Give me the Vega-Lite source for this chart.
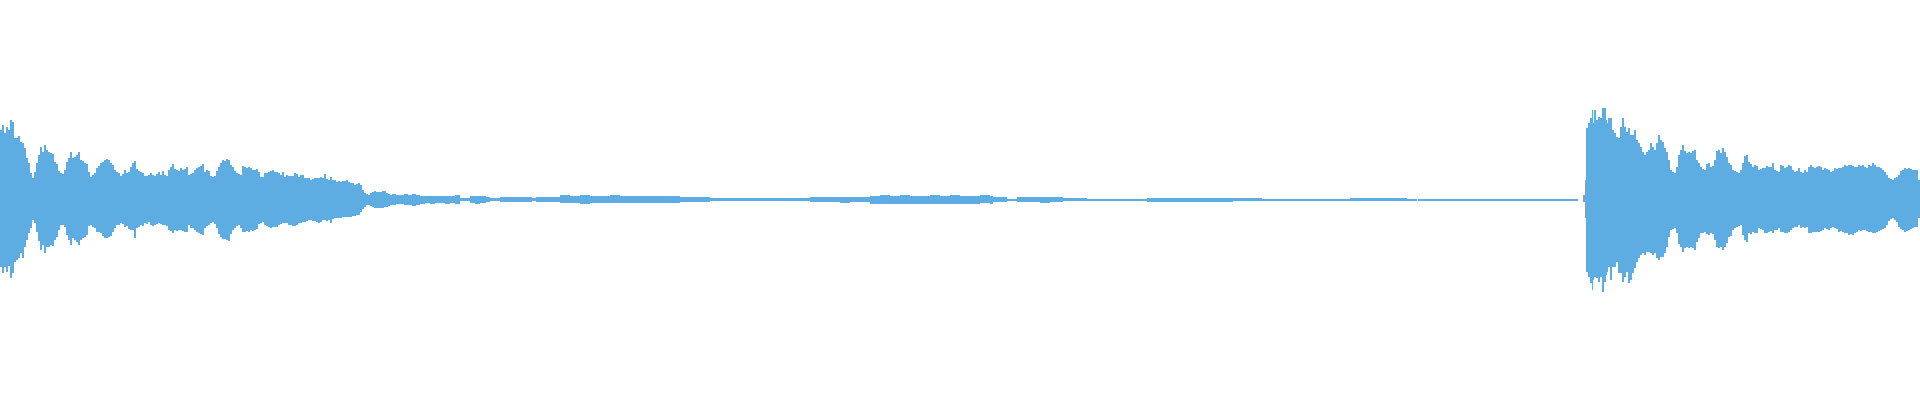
{
"$schema": "https://vega.github.io/schema/vega-lite/v6.json",
"width": 1920, "height": 400, "padding": 0,
"autosize": {"type": "fit", "contains": "padding"},
"background": "white",
"config": {"view": {"stroke": null}},
"data": {"values": [
{"t":0,"hi":70,"lo":-67},{"t":2,"hi":75,"lo":-73},{"t":4,"hi":67,"lo":-67},{"t":6,"hi":73,"lo":-72},{"t":8,"hi":70,"lo":-66},{"t":10,"hi":80,"lo":-78},{"t":12,"hi":78,"lo":-73},{"t":14,"hi":62,"lo":-62},{"t":16,"hi":62,"lo":-60},{"t":18,"hi":64,"lo":-58},
{"t":20,"hi":58,"lo":-53},{"t":22,"hi":57,"lo":-58},{"t":24,"hi":52,"lo":-47},{"t":26,"hi":42,"lo":-40},{"t":28,"hi":37,"lo":-33},{"t":30,"hi":27,"lo":-28},{"t":32,"hi":22,"lo":-20},{"t":34,"hi":28,"lo":-23},{"t":36,"hi":37,"lo":-32},{"t":38,"hi":45,"lo":-41},
{"t":40,"hi":53,"lo":-50},{"t":42,"hi":48,"lo":-45},{"t":44,"hi":55,"lo":-53},{"t":46,"hi":50,"lo":-47},{"t":48,"hi":48,"lo":-47},{"t":50,"hi":47,"lo":-45},{"t":52,"hi":46,"lo":-46},{"t":54,"hi":38,"lo":-40},{"t":56,"hi":36,"lo":-37},{"t":58,"hi":29,"lo":-30},
{"t":60,"hi":27,"lo":-25},{"t":62,"hi":26,"lo":-25},{"t":64,"hi":30,"lo":-27},{"t":66,"hi":38,"lo":-35},{"t":68,"hi":42,"lo":-40},{"t":70,"hi":48,"lo":-45},{"t":72,"hi":42,"lo":-38},{"t":74,"hi":43,"lo":-40},{"t":76,"hi":45,"lo":-42},{"t":78,"hi":48,"lo":-45},
{"t":80,"hi":40,"lo":-40},{"t":82,"hi":39,"lo":-38},{"t":84,"hi":37,"lo":-37},{"t":86,"hi":36,"lo":-35},{"t":88,"hi":28,"lo":-26},{"t":90,"hi":23,"lo":-25},{"t":92,"hi":25,"lo":-27},{"t":94,"hi":27,"lo":-28},{"t":96,"hi":32,"lo":-32},{"t":98,"hi":34,"lo":-32},
{"t":100,"hi":37,"lo":-33},{"t":102,"hi":38,"lo":-36},{"t":104,"hi":40,"lo":-38},{"t":106,"hi":41,"lo":-38},{"t":108,"hi":40,"lo":-37},{"t":110,"hi":37,"lo":-36},{"t":112,"hi":35,"lo":-32},{"t":114,"hi":30,"lo":-28},{"t":116,"hi":28,"lo":-25},{"t":118,"hi":27,"lo":-25},
{"t":120,"hi":24,"lo":-23},{"t":122,"hi":26,"lo":-24},{"t":124,"hi":30,"lo":-27},{"t":126,"hi":27,"lo":-26},{"t":128,"hi":28,"lo":-29},{"t":130,"hi":33,"lo":-30},{"t":132,"hi":37,"lo":-30},{"t":134,"hi":39,"lo":-38},{"t":136,"hi":31,"lo":-28},{"t":138,"hi":29,"lo":-27},
{"t":140,"hi":28,"lo":-25},{"t":142,"hi":27,"lo":-26},{"t":144,"hi":24,"lo":-23},{"t":146,"hi":24,"lo":-24},{"t":148,"hi":25,"lo":-22},{"t":150,"hi":27,"lo":-25},{"t":152,"hi":25,"lo":-26},{"t":154,"hi":24,"lo":-25},{"t":156,"hi":26,"lo":-24},{"t":158,"hi":28,"lo":-23},
{"t":160,"hi":25,"lo":-24},{"t":162,"hi":29,"lo":-25},{"t":164,"hi":25,"lo":-25},{"t":166,"hi":24,"lo":-26},{"t":168,"hi":30,"lo":-30},{"t":170,"hi":33,"lo":-31},{"t":172,"hi":36,"lo":-33},{"t":174,"hi":31,"lo":-30},{"t":176,"hi":30,"lo":-31},{"t":178,"hi":29,"lo":-30},
{"t":180,"hi":32,"lo":-30},{"t":182,"hi":30,"lo":-31},{"t":184,"hi":31,"lo":-32},{"t":186,"hi":33,"lo":-32},{"t":188,"hi":25,"lo":-25},{"t":190,"hi":26,"lo":-28},{"t":192,"hi":27,"lo":-28},{"t":194,"hi":30,"lo":-30},{"t":196,"hi":32,"lo":-32},{"t":198,"hi":33,"lo":-33},
{"t":200,"hi":34,"lo":-34},{"t":202,"hi":36,"lo":-35},{"t":204,"hi":28,"lo":-28},{"t":206,"hi":30,"lo":-26},{"t":208,"hi":29,"lo":-25},{"t":210,"hi":24,"lo":-23},{"t":212,"hi":23,"lo":-22},{"t":214,"hi":24,"lo":-24},{"t":216,"hi":29,"lo":-28},{"t":218,"hi":33,"lo":-34},
{"t":220,"hi":37,"lo":-37},{"t":222,"hi":40,"lo":-39},{"t":224,"hi":39,"lo":-39},{"t":226,"hi":41,"lo":-40},{"t":228,"hi":40,"lo":-41},{"t":230,"hi":35,"lo":-34},{"t":232,"hi":33,"lo":-30},{"t":234,"hi":29,"lo":-28},{"t":236,"hi":27,"lo":-26},{"t":238,"hi":26,"lo":-25},
{"t":240,"hi":25,"lo":-28},{"t":242,"hi":34,"lo":-32},{"t":244,"hi":33,"lo":-32},{"t":246,"hi":32,"lo":-31},{"t":248,"hi":33,"lo":-32},{"t":250,"hi":32,"lo":-30},{"t":252,"hi":30,"lo":-31},{"t":254,"hi":30,"lo":-30},{"t":256,"hi":31,"lo":-29},{"t":258,"hi":28,"lo":-24},
{"t":260,"hi":23,"lo":-23},{"t":262,"hi":23,"lo":-22},{"t":264,"hi":27,"lo":-25},{"t":266,"hi":27,"lo":-26},{"t":268,"hi":28,"lo":-27},{"t":270,"hi":29,"lo":-28},{"t":272,"hi":30,"lo":-27},{"t":274,"hi":28,"lo":-27},{"t":276,"hi":28,"lo":-27},{"t":278,"hi":27,"lo":-25},
{"t":280,"hi":25,"lo":-24},{"t":282,"hi":28,"lo":-23},{"t":284,"hi":23,"lo":-23},{"t":286,"hi":25,"lo":-23},{"t":288,"hi":24,"lo":-25},{"t":290,"hi":24,"lo":-25},{"t":292,"hi":24,"lo":-26},{"t":294,"hi":27,"lo":-26},{"t":296,"hi":26,"lo":-25},{"t":298,"hi":23,"lo":-23},
{"t":300,"hi":25,"lo":-23},{"t":302,"hi":25,"lo":-22},{"t":304,"hi":22,"lo":-22},{"t":306,"hi":22,"lo":-21},{"t":308,"hi":22,"lo":-20},{"t":310,"hi":20,"lo":-20},{"t":312,"hi":21,"lo":-21},{"t":314,"hi":22,"lo":-21},{"t":316,"hi":22,"lo":-22},{"t":318,"hi":22,"lo":-23},
{"t":320,"hi":23,"lo":-22},{"t":322,"hi":22,"lo":-20},{"t":324,"hi":26,"lo":-20},{"t":326,"hi":21,"lo":-21},{"t":328,"hi":20,"lo":-20},{"t":330,"hi":23,"lo":-23},{"t":332,"hi":20,"lo":-19},{"t":334,"hi":20,"lo":-18},{"t":336,"hi":18,"lo":-18},{"t":338,"hi":19,"lo":-18},
{"t":340,"hi":18,"lo":-18},{"t":342,"hi":19,"lo":-17},{"t":344,"hi":19,"lo":-17},{"t":346,"hi":20,"lo":-17},{"t":348,"hi":18,"lo":-17},{"t":350,"hi":17,"lo":-17},{"t":352,"hi":17,"lo":-16},{"t":354,"hi":15,"lo":-16},{"t":356,"hi":16,"lo":-15},{"t":358,"hi":17,"lo":-15},
{"t":360,"hi":15,"lo":-12},{"t":362,"hi":10,"lo":-9},{"t":364,"hi":7,"lo":-7},{"t":366,"hi":6,"lo":-5},{"t":368,"hi":5,"lo":-5},{"t":370,"hi":7,"lo":-6},{"t":372,"hi":8,"lo":-7},{"t":374,"hi":9,"lo":-8},{"t":376,"hi":8,"lo":-8},{"t":378,"hi":8,"lo":-8},
{"t":380,"hi":8,"lo":-8},{"t":382,"hi":9,"lo":-8},{"t":384,"hi":9,"lo":-7},{"t":386,"hi":7,"lo":-7},{"t":388,"hi":6,"lo":-6},{"t":390,"hi":5,"lo":-5},
{"t":392,"hi":6,"lo":-5},{"t":396,"hi":5,"lo":-4},{"t":400,"hi":5,"lo":-4},{"t":404,"hi":6,"lo":-5},{"t":408,"hi":5,"lo":-5},{"t":412,"hi":6,"lo":-6},{"t":416,"hi":5,"lo":-5},{"t":420,"hi":4,"lo":-4},{"t":425,"hi":4,"lo":-3},{"t":430,"hi":4,"lo":-4},
{"t":435,"hi":4,"lo":-3},{"t":440,"hi":4,"lo":-3},{"t":445,"hi":4,"lo":-4},{"t":450,"hi":4,"lo":-3},{"t":455,"hi":5,"lo":-4},{"t":460,"hi":2,"lo":-1},{"t":464,"hi":2,"lo":-1},{"t":470,"hi":4,"lo":-3},{"t":475,"hi":4,"lo":-4},{"t":480,"hi":4,"lo":-3},
{"t":486,"hi":3,"lo":-2},{"t":490,"hi":2,"lo":-1},{"t":495,"hi":2,"lo":-1},{"t":500,"hi":3,"lo":-2},{"t":510,"hi":3,"lo":-2},{"t":520,"hi":3,"lo":-2},{"t":528,"hi":3,"lo":-2},{"t":532,"hi":2,"lo":-1},{"t":536,"hi":3,"lo":-2},{"t":545,"hi":3,"lo":-2},
{"t":555,"hi":3,"lo":-2},{"t":560,"hi":5,"lo":-3},{"t":570,"hi":4,"lo":-3},{"t":580,"hi":5,"lo":-4},{"t":590,"hi":4,"lo":-3},{"t":600,"hi":4,"lo":-3},{"t":610,"hi":5,"lo":-3},{"t":620,"hi":4,"lo":-3},{"t":630,"hi":4,"lo":-3},{"t":640,"hi":4,"lo":-3},
{"t":650,"hi":4,"lo":-3},{"t":660,"hi":4,"lo":-3},{"t":670,"hi":4,"lo":-3},{"t":680,"hi":3,"lo":-2},{"t":690,"hi":3,"lo":-2},{"t":700,"hi":3,"lo":-2},{"t":710,"hi":2,"lo":-1},{"t":720,"hi":2,"lo":-1},{"t":730,"hi":2,"lo":-1},{"t":740,"hi":2,"lo":-1},
{"t":750,"hi":2,"lo":-1},{"t":760,"hi":2,"lo":-1},{"t":770,"hi":2,"lo":-1},{"t":780,"hi":2,"lo":-1},{"t":790,"hi":2,"lo":-1},{"t":800,"hi":2,"lo":-1},{"t":810,"hi":3,"lo":-2},{"t":820,"hi":3,"lo":-2},{"t":830,"hi":3,"lo":-2},{"t":840,"hi":3,"lo":-3},
{"t":850,"hi":3,"lo":-2},{"t":860,"hi":3,"lo":-2},{"t":870,"hi":4,"lo":-4},{"t":880,"hi":5,"lo":-4},{"t":890,"hi":4,"lo":-4},{"t":900,"hi":5,"lo":-4},{"t":910,"hi":4,"lo":-4},{"t":920,"hi":4,"lo":-4},{"t":930,"hi":5,"lo":-4},{"t":940,"hi":4,"lo":-4},
{"t":950,"hi":5,"lo":-4},{"t":960,"hi":4,"lo":-4},{"t":970,"hi":4,"lo":-4},{"t":980,"hi":5,"lo":-3},{"t":990,"hi":4,"lo":-4},{"t":993,"hi":3,"lo":-2},{"t":1000,"hi":3,"lo":-2},{"t":1007,"hi":1,"lo":-1},{"t":1017,"hi":3,"lo":-2},{"t":1030,"hi":3,"lo":-2},
{"t":1040,"hi":3,"lo":-3},{"t":1050,"hi":3,"lo":-2},{"t":1063,"hi":2,"lo":-1},{"t":1075,"hi":2,"lo":-1},{"t":1087,"hi":1,"lo":-1},{"t":1100,"hi":1,"lo":-1},{"t":1120,"hi":1,"lo":-1},{"t":1140,"hi":1,"lo":-1},{"t":1147,"hi":2,"lo":-2},{"t":1160,"hi":2,"lo":-2},
{"t":1180,"hi":2,"lo":-2},{"t":1200,"hi":2,"lo":-2},{"t":1220,"hi":2,"lo":-2},{"t":1233,"hi":2,"lo":-1},{"t":1250,"hi":2,"lo":-1},{"t":1262,"hi":1,"lo":-1},{"t":1280,"hi":1,"lo":-1},{"t":1300,"hi":1,"lo":-1},{"t":1320,"hi":1,"lo":-1},{"t":1350,"hi":2,"lo":-1},
{"t":1370,"hi":2,"lo":-1},{"t":1390,"hi":2,"lo":-1},{"t":1407,"hi":1,"lo":-1},{"t":1417,"hi":0,"lo":0},{"t":1418,"hi":1,"lo":-1},{"t":1440,"hi":1,"lo":-1},{"t":1460,"hi":1,"lo":-1},{"t":1480,"hi":1,"lo":-1},{"t":1500,"hi":1,"lo":-1},{"t":1520,"hi":1,"lo":-1},
{"t":1540,"hi":1,"lo":-1},{"t":1560,"hi":1,"lo":-1},{"t":1576,"hi":1,"lo":-1},{"t":1578,"hi":0,"lo":0},
{"t":1583,"hi":5,"lo":-2},{"t":1585,"hi":20,"lo":-18},{"t":1586,"hi":72,"lo":-72},{"t":1588,"hi":77,"lo":-77},{"t":1590,"hi":82,"lo":-83},{"t":1592,"hi":90,"lo":-90},{"t":1593,"hi":77,"lo":-80},{"t":1594,"hi":90,"lo":-77},{"t":1596,"hi":80,"lo":-78},{"t":1598,"hi":83,"lo":-82},
{"t":1600,"hi":82,"lo":-77},{"t":1602,"hi":92,"lo":-92},{"t":1604,"hi":92,"lo":-82},{"t":1606,"hi":80,"lo":-75},{"t":1607,"hi":77,"lo":-72},{"t":1608,"hi":82,"lo":-67},{"t":1610,"hi":82,"lo":-80},{"t":1612,"hi":70,"lo":-67},{"t":1614,"hi":67,"lo":-67},{"t":1616,"hi":63,"lo":-62},
{"t":1618,"hi":62,"lo":-73},{"t":1620,"hi":73,"lo":-73},{"t":1622,"hi":82,"lo":-82},{"t":1624,"hi":73,"lo":-77},{"t":1626,"hi":68,"lo":-72},{"t":1628,"hi":72,"lo":-83},{"t":1630,"hi":65,"lo":-80},{"t":1632,"hi":65,"lo":-73},{"t":1634,"hi":70,"lo":-68},{"t":1636,"hi":60,"lo":-62},
{"t":1638,"hi":57,"lo":-58},{"t":1640,"hi":53,"lo":-55},{"t":1642,"hi":48,"lo":-53},{"t":1644,"hi":45,"lo":-55},{"t":1646,"hi":48,"lo":-52},{"t":1648,"hi":50,"lo":-52},{"t":1650,"hi":57,"lo":-53},{"t":1652,"hi":53,"lo":-55},{"t":1654,"hi":50,"lo":-53},{"t":1656,"hi":57,"lo":-58},
{"t":1658,"hi":65,"lo":-60},{"t":1660,"hi":60,"lo":-57},{"t":1662,"hi":58,"lo":-57},{"t":1664,"hi":52,"lo":-53},{"t":1666,"hi":48,"lo":-47},{"t":1668,"hi":40,"lo":-37},{"t":1670,"hi":30,"lo":-30},{"t":1672,"hi":28,"lo":-29},{"t":1674,"hi":27,"lo":-28},{"t":1676,"hi":33,"lo":-33},
{"t":1678,"hi":45,"lo":-44},{"t":1680,"hi":50,"lo":-47},{"t":1682,"hi":55,"lo":-52},{"t":1684,"hi":49,"lo":-48},{"t":1686,"hi":47,"lo":-47},{"t":1688,"hi":48,"lo":-48},{"t":1690,"hi":47,"lo":-47},{"t":1692,"hi":49,"lo":-48},{"t":1694,"hi":50,"lo":-50},{"t":1696,"hi":40,"lo":-42},
{"t":1698,"hi":37,"lo":-38},{"t":1700,"hi":33,"lo":-33},{"t":1702,"hi":31,"lo":-33},{"t":1704,"hi":30,"lo":-32},{"t":1706,"hi":36,"lo":-34},{"t":1708,"hi":37,"lo":-35},{"t":1710,"hi":33,"lo":-33},{"t":1712,"hi":34,"lo":-34},{"t":1714,"hi":40,"lo":-40},{"t":1716,"hi":49,"lo":-47},
{"t":1718,"hi":50,"lo":-48},{"t":1720,"hi":47,"lo":-47},{"t":1722,"hi":52,"lo":-50},{"t":1724,"hi":48,"lo":-47},{"t":1726,"hi":43,"lo":-43},{"t":1728,"hi":37,"lo":-37},{"t":1730,"hi":35,"lo":-36},{"t":1732,"hi":30,"lo":-30},{"t":1734,"hi":29,"lo":-28},{"t":1736,"hi":28,"lo":-27},
{"t":1738,"hi":27,"lo":-26},{"t":1740,"hi":30,"lo":-25},{"t":1742,"hi":37,"lo":-35},{"t":1744,"hi":44,"lo":-40},{"t":1746,"hi":45,"lo":-42},{"t":1748,"hi":38,"lo":-33},{"t":1750,"hi":36,"lo":-34},{"t":1752,"hi":33,"lo":-32},{"t":1754,"hi":35,"lo":-33},{"t":1756,"hi":34,"lo":-33},
{"t":1758,"hi":30,"lo":-28},{"t":1760,"hi":31,"lo":-29},{"t":1762,"hi":32,"lo":-30},{"t":1764,"hi":32,"lo":-33},{"t":1766,"hi":34,"lo":-33},{"t":1768,"hi":33,"lo":-32},{"t":1770,"hi":33,"lo":-31},{"t":1772,"hi":37,"lo":-33},{"t":1774,"hi":30,"lo":-30},{"t":1776,"hi":29,"lo":-30},
{"t":1778,"hi":28,"lo":-28},{"t":1780,"hi":35,"lo":-32},{"t":1782,"hi":34,"lo":-32},{"t":1784,"hi":32,"lo":-33},{"t":1786,"hi":33,"lo":-33},{"t":1788,"hi":35,"lo":-32},{"t":1790,"hi":34,"lo":-30},{"t":1792,"hi":30,"lo":-28},{"t":1794,"hi":28,"lo":-27},{"t":1796,"hi":29,"lo":-27},
{"t":1798,"hi":32,"lo":-25},{"t":1800,"hi":28,"lo":-28},{"t":1802,"hi":27,"lo":-27},{"t":1804,"hi":30,"lo":-28},{"t":1806,"hi":28,"lo":-27},{"t":1808,"hi":33,"lo":-33},{"t":1810,"hi":35,"lo":-33},{"t":1812,"hi":33,"lo":-32},{"t":1814,"hi":32,"lo":-32},{"t":1816,"hi":33,"lo":-32},
{"t":1818,"hi":34,"lo":-32},{"t":1820,"hi":33,"lo":-31},{"t":1822,"hi":30,"lo":-30},{"t":1824,"hi":32,"lo":-28},{"t":1826,"hi":31,"lo":-29},{"t":1828,"hi":30,"lo":-30},{"t":1830,"hi":28,"lo":-28},{"t":1832,"hi":29,"lo":-27},{"t":1834,"hi":32,"lo":-28},{"t":1836,"hi":31,"lo":-29},
{"t":1838,"hi":32,"lo":-32},{"t":1840,"hi":32,"lo":-31},{"t":1842,"hi":33,"lo":-32},{"t":1844,"hi":35,"lo":-33},{"t":1846,"hi":34,"lo":-33},{"t":1848,"hi":35,"lo":-35},{"t":1850,"hi":35,"lo":-34},{"t":1852,"hi":34,"lo":-35},{"t":1854,"hi":33,"lo":-33},{"t":1856,"hi":33,"lo":-32},
{"t":1858,"hi":35,"lo":-30},{"t":1860,"hi":34,"lo":-31},{"t":1862,"hi":35,"lo":-30},{"t":1864,"hi":33,"lo":-30},{"t":1866,"hi":32,"lo":-31},{"t":1868,"hi":35,"lo":-32},{"t":1870,"hi":34,"lo":-32},{"t":1872,"hi":37,"lo":-33},{"t":1874,"hi":35,"lo":-33},{"t":1876,"hi":33,"lo":-32},
{"t":1878,"hi":33,"lo":-31},{"t":1880,"hi":32,"lo":-30},{"t":1882,"hi":30,"lo":-29},{"t":1884,"hi":28,"lo":-28},{"t":1886,"hi":25,"lo":-25},{"t":1888,"hi":22,"lo":-21},{"t":1890,"hi":21,"lo":-19},{"t":1892,"hi":20,"lo":-18},{"t":1894,"hi":22,"lo":-20},{"t":1896,"hi":23,"lo":-22},
{"t":1898,"hi":25,"lo":-27},{"t":1900,"hi":29,"lo":-29},{"t":1902,"hi":30,"lo":-30},{"t":1904,"hi":32,"lo":-32},{"t":1906,"hi":31,"lo":-31},{"t":1908,"hi":32,"lo":-30},{"t":1910,"hi":31,"lo":-29},{"t":1912,"hi":30,"lo":-28},{"t":1914,"hi":30,"lo":-27},{"t":1916,"hi":30,"lo":-27},
{"t":1918,"hi":20,"lo":-18},{"t":1920,"hi":20,"lo":-18}
]},
"mark": {"type": "area", "interpolate": "step-after", "color": "#5dade2", "opacity": 1},
"encoding": {
  "x": {"field": "t", "type": "quantitative", "scale": {"domain": [0, 1920], "nice": false, "zero": false}, "axis": null},
  "y": {"field": "hi", "type": "quantitative", "scale": {"domain": [-200, 200], "nice": false}, "axis": null},
  "y2": {"field": "lo"}
}
}
